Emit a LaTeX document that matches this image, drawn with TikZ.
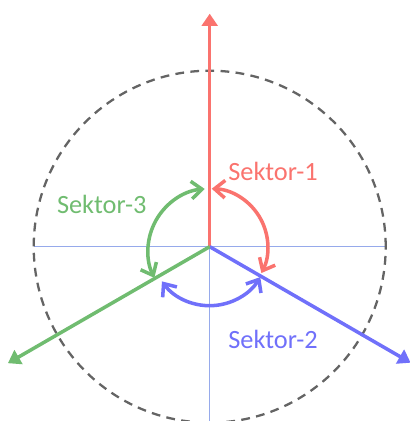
\documentclass[tikz,border=0pt]{standalone}
\usepackage{fontspec}
\setmainfont{Carlito}
\usetikzlibrary{arrows.meta}
\definecolor{sekred}{RGB}{250,115,110}
\definecolor{sekblue}{RGB}{112,112,250}
\definecolor{sekgreen}{RGB}{112,188,112}
\definecolor{axisblue}{RGB}{150,170,235}
\definecolor{ringgray}{RGB}{100,100,100}

\begin{document}
\begin{tikzpicture}[x=0.02cm, y=0.02cm,
  axis/.style={axisblue, line width=0.6pt},
  ring/.style={ringgray, line width=1.3pt, dash pattern=on 5pt off 3.6pt},
  phase/.style={line width=2pt, -{Triangle[length=7pt, width=9pt]}},
  sweep/.style={line width=2pt, {Straight Barb[length=6pt, width=10pt]}-{Straight Barb[length=6pt, width=10pt]}},
  lbl/.style={font=\fontsize{15}{18}\selectfont}
]
\useasboundingbox (-209.7,-174.3) rectangle (199.3,246.7);
\coordinate (O) at (0,0);
\coordinate (xl) at (-176,0);
\coordinate (xr) at (176,0);
\coordinate (yt) at (0,176);
\coordinate (yb) at (0,-174.3);
\draw[axis] (xl) -- (xr);
\draw[axis] (yt) -- (yb);
\draw[ring] (O) circle (176);
% phase axes
\coordinate (p1) at (90:233);
\coordinate (p2) at (-30:232);
\coordinate (p3) at (210:233);
\draw[phase, sekred] (O) -- (p1);
\draw[phase, sekblue] (O) -- (p2);
\draw[phase, sekgreen] (O) -- (p3);
% sector sweeps
\coordinate (s1) at (88:58);
\coordinate (s2) at (216:59);
\coordinate (s3) at (95:58);
\draw[sweep, sekred] (s1) arc[start angle=88, end angle=-27, radius=58];
\draw[sweep, sekblue] (s2) arc[start angle=216, end angle=329, radius=59];
\draw[sweep, sekgreen] (s3) arc[start angle=95, end angle=206, radius=62];
\node[lbl, text=sekred] (t1) at (63.3,75) {Sektor-1};
\node[lbl, text=sekblue] (t2) at (63.3,-92.3) {Sektor-2};
\node[lbl, text=sekgreen] (t3) at (-108,42.7) {Sektor-3};
\end{tikzpicture}
\end{document}
